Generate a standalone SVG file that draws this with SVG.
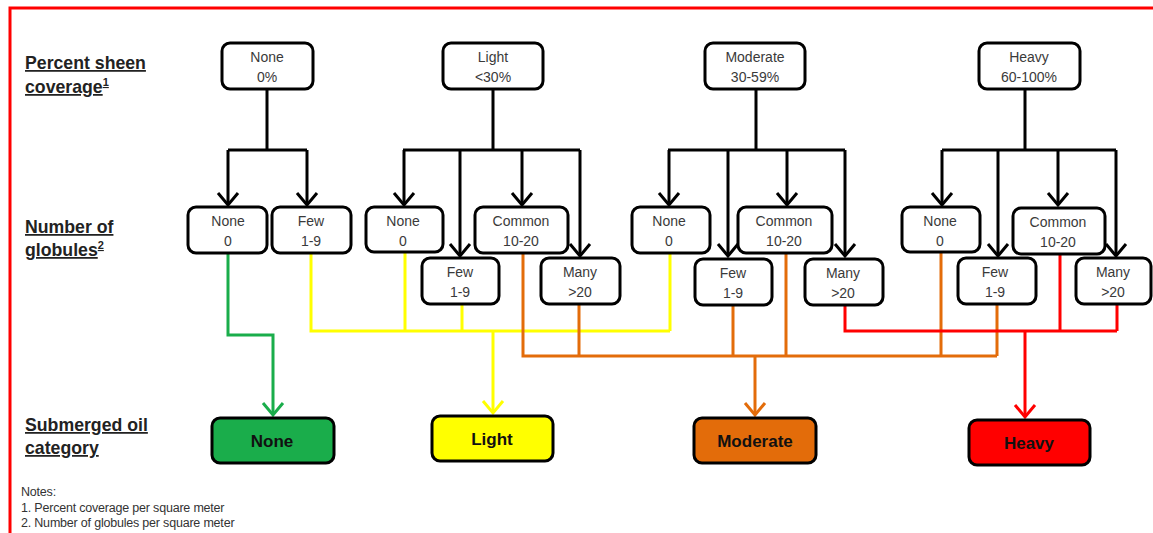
<svg xmlns="http://www.w3.org/2000/svg" width="1153" height="533" viewBox="0 0 1153 533">
<style>
.box{fill:#fff;stroke:#000;stroke-width:3}
.cat{stroke:#000;stroke-width:3}
.t{font-family:"Liberation Sans",Arial,sans-serif;font-size:14px;fill:#3a3a3a;text-anchor:middle}
.ct{font-family:"Liberation Sans",Arial,sans-serif;font-size:17px;font-weight:bold;fill:#111;text-anchor:middle}
.lbl{font-family:"Liberation Sans",Arial,sans-serif;font-size:17.7px;font-weight:bold;fill:#222;text-decoration:underline}
.note{font-family:"Liberation Sans",Arial,sans-serif;font-size:12.5px;fill:#333;letter-spacing:-0.2px}
.k{fill:none;stroke:#000;stroke-width:3}
.g{fill:none;stroke:#1aad4b;stroke-width:3}
.y{fill:none;stroke:#ffff00;stroke-width:3}
.o{fill:none;stroke:#e36c0a;stroke-width:3}
.r{fill:none;stroke:#ff0000;stroke-width:3}
</style>
<defs>
<marker id="ak" markerUnits="userSpaceOnUse" markerWidth="24" markerHeight="24" refX="14" refY="12" viewBox="0 0 24 24" orient="auto"><path d="M2,2 L14,12 L2,22" fill="none" stroke="#000" stroke-width="3"/></marker>
<marker id="ag" markerUnits="userSpaceOnUse" markerWidth="24" markerHeight="24" refX="14" refY="12" viewBox="0 0 24 24" orient="auto"><path d="M2,2 L14,12 L2,22" fill="none" stroke="#1aad4b" stroke-width="3"/></marker>
<marker id="ay" markerUnits="userSpaceOnUse" markerWidth="24" markerHeight="24" refX="14" refY="12" viewBox="0 0 24 24" orient="auto"><path d="M2,2 L14,12 L2,22" fill="none" stroke="#ffff00" stroke-width="3"/></marker>
<marker id="ao" markerUnits="userSpaceOnUse" markerWidth="24" markerHeight="24" refX="14" refY="12" viewBox="0 0 24 24" orient="auto"><path d="M2,2 L14,12 L2,22" fill="none" stroke="#e36c0a" stroke-width="3"/></marker>
<marker id="ar" markerUnits="userSpaceOnUse" markerWidth="24" markerHeight="24" refX="14" refY="12" viewBox="0 0 24 24" orient="auto"><path d="M2,2 L14,12 L2,22" fill="none" stroke="#ff0000" stroke-width="3"/></marker>
</defs>
<rect x="0" y="0" width="1153" height="533" fill="#fff"/>
<rect x="10" y="8" width="1160" height="540" fill="none" stroke="#ff0000" stroke-width="3"/>

<g id="labels">
<text class="lbl" x="25" y="69">Percent sheen</text>
<text class="lbl" x="25" y="93">coverage<tspan font-size="11" dy="-7">1</tspan></text>
<text class="lbl" x="25" y="233">Number of</text>
<text class="lbl" x="25" y="256">globules<tspan font-size="11" dy="-7">2</tspan></text>
<text class="lbl" x="25" y="431">Submerged oil</text>
<text class="lbl" x="25" y="454">category</text>
<text class="note" x="21" y="496">Notes:</text>
<text class="note" x="21" y="512">1. Percent coverage per square meter</text>
<text class="note" x="21" y="527">2. Number of globules per square meter</text>
</g>

<g id="connectors">
<path class="k" d="M267,89 V150 M228,150 H307"/>
<path class="k" d="M228,150 V205" marker-end="url(#ak)"/>
<path class="k" d="M307,150 V205" marker-end="url(#ak)"/>
<path class="k" d="M493,89 V150 M403,150 H580"/>
<path class="k" d="M404,150 V205" marker-end="url(#ak)"/>
<path class="k" d="M460,150 V256" marker-end="url(#ak)"/>
<path class="k" d="M522,150 V205" marker-end="url(#ak)"/>
<path class="k" d="M580,150 V256" marker-end="url(#ak)"/>
<path class="k" d="M756,89 V150 M668,150 H845"/>
<path class="k" d="M669,150 V205" marker-end="url(#ak)"/>
<path class="k" d="M728,150 V256" marker-end="url(#ak)"/>
<path class="k" d="M787,150 V205" marker-end="url(#ak)"/>
<path class="k" d="M845,150 V256" marker-end="url(#ak)"/>
<path class="k" d="M1025,89 V150 M942,150 H1116"/>
<path class="k" d="M942,150 V205" marker-end="url(#ak)"/>
<path class="k" d="M998,150 V256" marker-end="url(#ak)"/>
<path class="k" d="M1058,150 V205" marker-end="url(#ak)"/>
<path class="k" d="M1116,150 V256" marker-end="url(#ak)"/>

<path class="g" d="M228,253 V335 H273 V415" marker-end="url(#ag)"/>

<path class="y" d="M311,253 V331 H670 M405,252 V331 M462,304 V331 M670,253 V331"/>
<path class="y" d="M493,331 V413" marker-end="url(#ay)"/>

<path class="o" d="M523,253 V356 H997 M579,304 V356 M733,305 V356 M786,253 V356 M941,252 V356 M997,304 V356"/>
<path class="o" d="M755,356 V415" marker-end="url(#ao)"/>

<path class="r" d="M845,305 V331 H1117 M1060,254 V331 M1117,304 V331"/>
<path class="r" d="M1025,331 V417" marker-end="url(#ar)"/>
</g>

<g id="top-none"><rect class="box" x="222" y="43" width="91" height="46" rx="8"/><text class="t" x="267" y="62">None</text><text class="t" x="267" y="82">0%</text></g>
<g id="top-light"><rect class="box" x="443" y="43" width="100" height="46" rx="8"/><text class="t" x="493" y="62">Light</text><text class="t" x="493" y="82">&lt;30%</text></g>
<g id="top-moderate"><rect class="box" x="705" y="43" width="100" height="46" rx="8"/><text class="t" x="755" y="62">Moderate</text><text class="t" x="755" y="82">30-59%</text></g>
<g id="top-heavy"><rect class="box" x="979" y="43" width="101" height="46" rx="8"/><text class="t" x="1029" y="62">Heavy</text><text class="t" x="1029" y="82">60-100%</text></g>

<g id="n-none-0"><rect class="box" x="188" y="207" width="79" height="46" rx="8"/><text class="t" x="228" y="226">None</text><text class="t" x="228" y="246">0</text></g>
<g id="n-few-0"><rect class="box" x="272" y="207" width="79" height="46" rx="8"/><text class="t" x="311" y="226">Few</text><text class="t" x="311" y="246">1-9</text></g>

<g id="l-none"><rect class="box" x="366" y="207" width="77" height="45" rx="8"/><text class="t" x="403" y="226">None</text><text class="t" x="403" y="246">0</text></g>
<g id="l-few"><rect class="box" x="422" y="258" width="77" height="46" rx="8"/><text class="t" x="460" y="277">Few</text><text class="t" x="460" y="297">1-9</text></g>
<g id="l-common"><rect class="box" x="475" y="207" width="93" height="46" rx="8"/><text class="t" x="521" y="226">Common</text><text class="t" x="521" y="246">10-20</text></g>
<g id="l-many"><rect class="box" x="541" y="258" width="79" height="46" rx="8"/><text class="t" x="580" y="277">Many</text><text class="t" x="580" y="297">&gt;20</text></g>

<g id="m-none"><rect class="box" x="632" y="207" width="78" height="46" rx="8"/><text class="t" x="669" y="226">None</text><text class="t" x="669" y="246">0</text></g>
<g id="m-few"><rect class="box" x="695" y="259" width="77" height="46" rx="8"/><text class="t" x="733" y="278">Few</text><text class="t" x="733" y="298">1-9</text></g>
<g id="m-common"><rect class="box" x="738" y="207" width="94" height="46" rx="8"/><text class="t" x="784" y="226">Common</text><text class="t" x="784" y="246">10-20</text></g>
<g id="m-many"><rect class="box" x="805" y="259" width="78" height="46" rx="8"/><text class="t" x="843" y="278">Many</text><text class="t" x="843" y="298">&gt;20</text></g>

<g id="h-none"><rect class="box" x="902" y="207" width="78" height="45" rx="8"/><text class="t" x="940" y="226">None</text><text class="t" x="940" y="246">0</text></g>
<g id="h-few"><rect class="box" x="958" y="258" width="78" height="46" rx="8"/><text class="t" x="995" y="277">Few</text><text class="t" x="995" y="297">1-9</text></g>
<g id="h-common"><rect class="box" x="1013" y="208" width="92" height="46" rx="8"/><text class="t" x="1058" y="227">Common</text><text class="t" x="1058" y="247">10-20</text></g>
<g id="h-many"><rect class="box" x="1076" y="258" width="75" height="46" rx="8"/><text class="t" x="1113" y="277">Many</text><text class="t" x="1113" y="297">&gt;20</text></g>

<g id="cat-none"><rect class="cat" x="212" y="418" width="122" height="45" rx="8" fill="#1aad4b"/><text class="ct" x="272" y="447">None</text></g>
<g id="cat-light"><rect class="cat" x="432" y="416" width="121" height="45" rx="8" fill="#ffff00"/><text class="ct" x="492" y="445">Light</text></g>
<g id="cat-moderate"><rect class="cat" x="694" y="418" width="122" height="45" rx="8" fill="#e36c0a"/><text class="ct" x="755" y="447">Moderate</text></g>
<g id="cat-heavy"><rect class="cat" x="969" y="420" width="121" height="45" rx="8" fill="#ff0000"/><text class="ct" x="1029" y="449">Heavy</text></g>
</svg>
